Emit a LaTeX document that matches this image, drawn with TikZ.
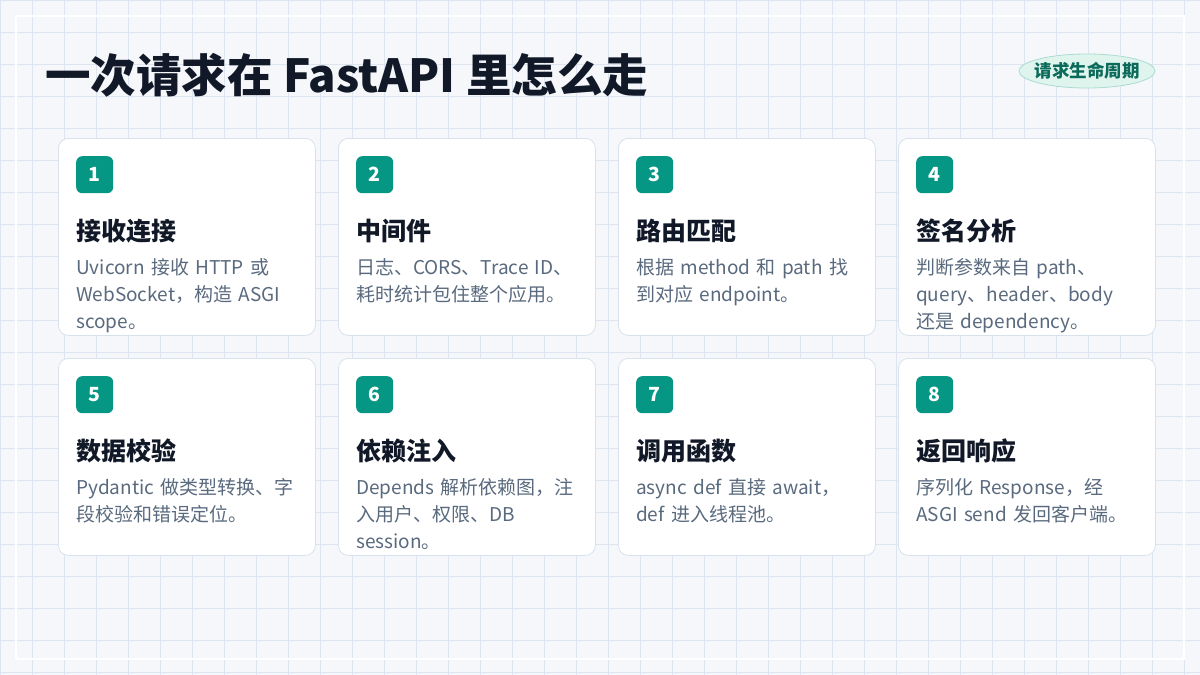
\documentclass[tikz,border=0pt]{standalone}
\usepackage{fontspec}
\setmainfont{Noto Sans CJK SC}
\usetikzlibrary{shapes.geometric}

\definecolor{pagebg}{HTML}{F5F7FB}
\definecolor{gridc}{HTML}{DDE6F0}
\definecolor{cardline}{HTML}{D8E1EC}
\definecolor{teal}{HTML}{059784}
\definecolor{ink}{HTML}{111827}
\definecolor{slate}{HTML}{5A6A7E}
\definecolor{pillfill}{HTML}{E0F4EE}
\definecolor{pillline}{HTML}{A9DCCF}
\definecolor{pillink}{HTML}{0B6B5A}

\tikzset{
  gridline/.style={gridc, line width=1pt},
  card/.style={draw=cardline, fill=white, line width=0.8pt, rounded corners=10pt,
    minimum width=257pt, minimum height=197pt, anchor=north west, inner sep=0pt},
  badge/.style={fill=teal, text=white, rounded corners=6pt, minimum size=37pt,
    anchor=north west, inner sep=0pt, font=\fontsize{19.5}{19.5}\selectfont\bfseries},
  heading/.style={text=ink, anchor=base west, inner sep=0pt,
    font=\fontsize{25}{25}\selectfont\bfseries},
  bodytext/.style={text=slate, anchor=base west, inner sep=0pt, text width=240pt,
    align=left, font=\fontsize{19}{27}\selectfont},
}

\begin{document}
\begin{tikzpicture}[x=1pt, y=-1pt]
    \useasboundingbox (0,0) rectangle (1200,675);
    \fill[pagebg] (0,0) rectangle (1200,675);

    % background grid
    \foreach \gx in {0,32,...,1200}
        \draw[gridline] (\gx,0) -- (\gx,675);
    \foreach \gy in {0,32,...,675}
        \draw[gridline] (0,\gy) -- (1200,\gy);
    \draw[white, line width=2pt] (16,16) rectangle (1184,659);

    % title and tag
    \node[text=ink, anchor=base west, inner sep=0pt,
          font=\fontsize{45.5}{45.5}\selectfont\bfseries] (title) at (45,92)
        {一次请求在 FastAPI 里怎么走};
    \node[ellipse, draw=pillline, fill=pillfill, line width=0.8pt, text=pillink,
          minimum width=136pt, minimum height=34pt, inner xsep=-5pt, inner ysep=0pt,
          font=\fontsize{17.5}{17.5}\selectfont\bfseries] (tag) at (1087,71) {请求生命周期};

    % the eight steps
    \foreach \n/\ttl/\txt in {
        1/接收连接/{Uvicorn 接收 HTTP 或\\WebSocket，构造 ASGI\\scope。},
        2/中间件/{日志、CORS、Trace ID、\\耗时统计包住整个应用。},
        3/路由匹配/{根据 method 和 path 找\\到对应 endpoint。},
        4/签名分析/{判断参数来自 path、\\query、header、body\\还是 dependency。},
        5/数据校验/{Pydantic 做类型转换、字\\段校验和错误定位。},
        6/依赖注入/{Depends 解析依赖图，注\\入用户、权限、DB\\session。},
        7/调用函数/{async def 直接 await，\\def 进入线程池。},
        8/返回响应/{序列化 Response，经\\ASGI send 发回客户端。}}
    {
        \pgfmathtruncatemacro{\cx}{58 + 280*mod(\n-1,4)}
        \pgfmathtruncatemacro{\cy}{138 + 220*int((\n-1)/4)}
        \node[card] (card\n) at (\cx,\cy) {};
        \node[badge] (badge\n) at (\cx+18,\cy+18) {\n};
        \node[heading] (head\n) at (\cx+18,\cy+102) {\ttl};
        \node[bodytext] (body\n) at (\cx+18,\cy+136) {\txt};
    }
\end{tikzpicture}
\end{document}
